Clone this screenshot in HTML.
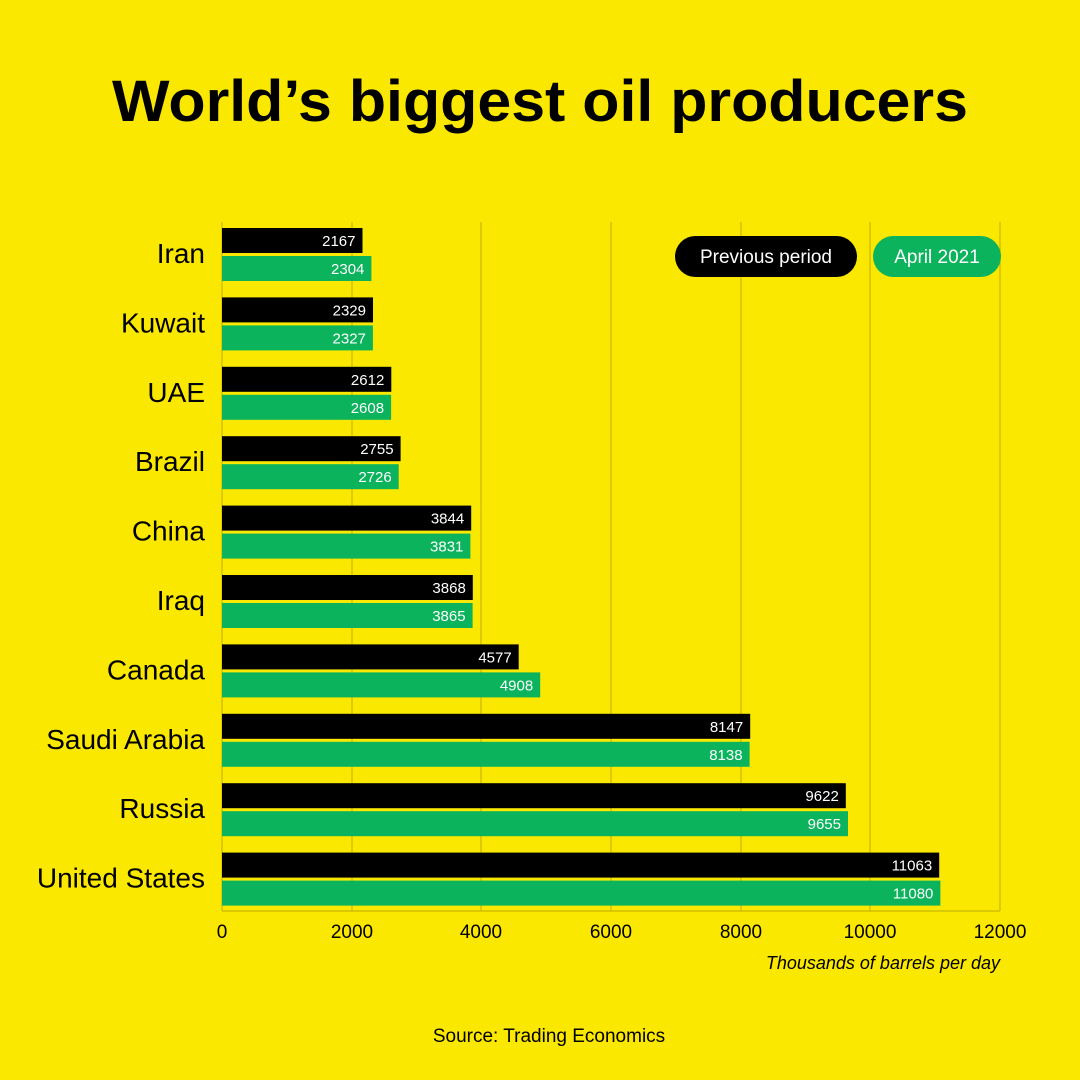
<!DOCTYPE html>
<html><head><meta charset="utf-8"><style>
html,body{margin:0;padding:0;width:1080px;height:1080px;overflow:hidden;background:#fbe800;}
svg{display:block;font-family:"Liberation Sans",sans-serif;}
</style></head><body>
<svg width="1080" height="1080" viewBox="0 0 1080 1080">
<rect width="1080" height="1080" fill="#fbe800"/>
<text x="540" y="121" text-anchor="middle" font-size="58" font-weight="bold" fill="#000" textLength="856" lengthAdjust="spacingAndGlyphs">World’s biggest oil producers</text>
<g stroke="#c9b800" stroke-width="1.2">
<line x1="352" y1="222" x2="352" y2="911"/><line x1="481" y1="222" x2="481" y2="911"/>
<line x1="611" y1="222" x2="611" y2="911"/><line x1="741" y1="222" x2="741" y2="911"/>
<line x1="870" y1="222" x2="870" y2="911"/><line x1="1000" y1="222" x2="1000" y2="911"/>
<line x1="222" y1="222" x2="222" y2="911"/><line x1="222" y1="911" x2="1000" y2="911"/>
</g>
<g font-size="15" fill="#fff" text-anchor="end">
<rect x="222" y="228" width="140.5" height="25" fill="#000"/><text x="355.5" y="246">2167</text>
<rect x="222" y="256" width="149.4" height="25" fill="#0bb35c"/><text x="364.4" y="274">2304</text>
<rect x="222" y="297.4" width="151" height="25" fill="#000"/><text x="366" y="315.4">2329</text>
<rect x="222" y="325.4" width="150.9" height="25" fill="#0bb35c"/><text x="365.9" y="343.4">2327</text>
<rect x="222" y="366.8" width="169.3" height="25" fill="#000"/><text x="384.3" y="384.8">2612</text>
<rect x="222" y="394.8" width="169.1" height="25" fill="#0bb35c"/><text x="384.1" y="412.8">2608</text>
<rect x="222" y="436.2" width="178.6" height="25" fill="#000"/><text x="393.6" y="454.2">2755</text>
<rect x="222" y="464.2" width="176.7" height="25" fill="#0bb35c"/><text x="391.7" y="482.2">2726</text>
<rect x="222" y="505.6" width="249.2" height="25" fill="#000"/><text x="464.2" y="523.6">3844</text>
<rect x="222" y="533.6" width="248.4" height="25" fill="#0bb35c"/><text x="463.4" y="551.6">3831</text>
<rect x="222" y="575" width="250.8" height="25" fill="#000"/><text x="465.8" y="593">3868</text>
<rect x="222" y="603" width="250.6" height="25" fill="#0bb35c"/><text x="465.6" y="621">3865</text>
<rect x="222" y="644.4" width="296.7" height="25" fill="#000"/><text x="511.7" y="662.4">4577</text>
<rect x="222" y="672.4" width="318.2" height="25" fill="#0bb35c"/><text x="533.2" y="690.4">4908</text>
<rect x="222" y="713.8" width="528.2" height="25" fill="#000"/><text x="743.2" y="731.8">8147</text>
<rect x="222" y="741.8" width="527.6" height="25" fill="#0bb35c"/><text x="742.6" y="759.8">8138</text>
<rect x="222" y="783.2" width="623.8" height="25" fill="#000"/><text x="838.8" y="801.2">9622</text>
<rect x="222" y="811.2" width="626" height="25" fill="#0bb35c"/><text x="841" y="829.2">9655</text>
<rect x="222" y="852.6" width="717.2" height="25" fill="#000"/><text x="932.2" y="870.6">11063</text>
<rect x="222" y="880.6" width="718.4" height="25" fill="#0bb35c"/><text x="933.4" y="898.6">11080</text>
</g>
<g font-size="28" fill="#000" text-anchor="end">
<text x="205" y="263">Iran</text>
<text x="205" y="332.4">Kuwait</text>
<text x="205" y="401.8">UAE</text>
<text x="205" y="471.2">Brazil</text>
<text x="205" y="540.6">China</text>
<text x="205" y="610">Iraq</text>
<text x="205" y="679.4">Canada</text>
<text x="205" y="748.8">Saudi Arabia</text>
<text x="205" y="818.2">Russia</text>
<text x="205" y="887.6">United States</text>
</g>
<rect x="675" y="236" width="182" height="41" rx="20.5" fill="#000"/>
<text x="766" y="263" text-anchor="middle" font-size="19" fill="#fff">Previous period</text>
<rect x="873" y="236" width="128" height="41" rx="20.5" fill="#0bb35c"/>
<text x="937" y="263" text-anchor="middle" font-size="19" fill="#fff">April 2021</text>
<g font-size="19" fill="#000" text-anchor="middle">
<text x="222" y="938">0</text><text x="352" y="938">2000</text><text x="481" y="938">4000</text>
<text x="611" y="938">6000</text><text x="741" y="938">8000</text><text x="870" y="938">10000</text><text x="1000" y="938">12000</text>
</g>
<text x="1000" y="969" text-anchor="end" font-size="18" font-style="italic" fill="#000">Thousands of barrels per day</text>
<text x="549" y="1042" text-anchor="middle" font-size="19" fill="#000">Source: Trading Economics</text>
</svg>
</body></html>
